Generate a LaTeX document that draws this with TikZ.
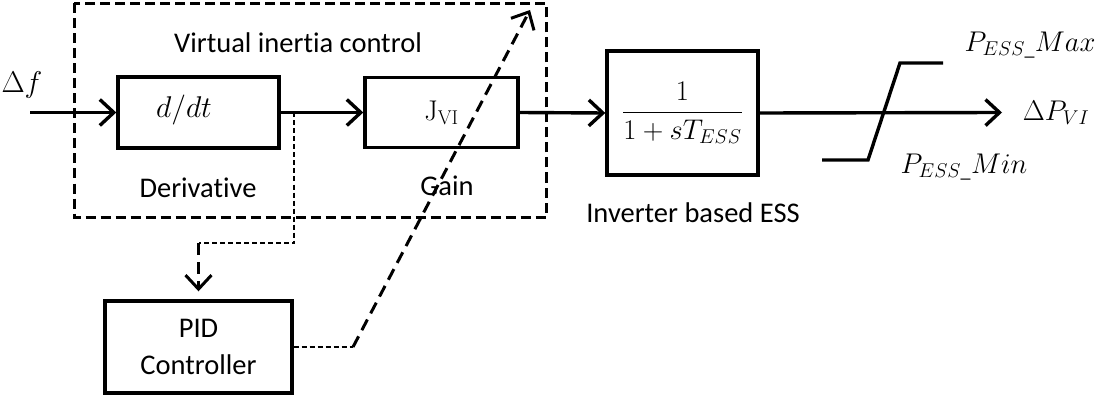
\RequirePackage{fix-cm}
\documentclass[tikz,border=0pt]{standalone}
\usepackage{amsmath}
\usepackage[no-math]{fontspec}
\setmainfont{Carlito}[Ligatures=NoCommon]
\usetikzlibrary{arrows.meta}
\begin{document}
\begin{tikzpicture}[x=1pt,y=-1pt,
  every node/.style={font=\fontsize{28.5}{33}\selectfont, inner sep=0pt},
  blk/.style={draw, line width=3.4pt, inner sep=0pt},
  sig/.style={line width=3.4pt, -{Straight Barb[length=14pt,width=26pt]}},
  grp/.style={line width=3pt, dash pattern=on 10pt off 5pt},
  thin/.style={line width=1.5pt, dash pattern=on 5pt off 3pt},
  tdash/.style={line width=3pt, dash pattern=on 12pt off 7pt},
  tdarrow/.style={tdash, -{Straight Barb[length=14pt,width=26pt]}}
]
\useasboundingbox (0,0) rectangle (1099,398);
% group box
\draw[grp] (74,3.5) rectangle (546,217);
\node (vic) at (298,43) {Virtual inertia control};
% blocks
\node[blk, minimum width=161pt, minimum height=71pt] (dd) at (198.5,112.5) {};
\node (ddt) at (184,110) {\fontsize{30}{34}\selectfont$d/dt$};
\node[blk, minimum width=153pt, minimum height=70pt] (jv) at (441.5,112.5) {\raisebox{-5pt}{$\mathrm{J}_{\mathrm{VI}}$}};
\node[blk, minimum width=151pt, minimum height=124pt] (ess) at (682.5,113) {$\dfrac{1}{1+sT_{ESS}}$};
\node[blk, minimum width=187pt, minimum height=92pt, align=center] (pid) at (198.5,347) {\raisebox{-4pt}{PID}\\[4pt]\raisebox{-4pt}{Controller}};
% labels
\node (der) at (198,188) {Derivative};
\node (gain) at (447,186) {Gain};
\node (inv) at (693,213) {Inverter based ESS};
\node (df) at (22,85) {\fontsize{30}{34}\selectfont$\Delta f$};
\node (dp) at (1056,113) {$\Delta P_{VI}$};
\node (pmax) at (1030,45) {$P_{ESS\_}Max$};
\node (pmin) at (964,167) {$P_{ESS\_}Min$};
% signal path
\coordinate (in) at (30,112.5);
\coordinate (out) at (1002,112.5);
\coordinate (br) at (294,112.5);
\draw[sig] (in) -- (dd.west);
\draw[sig] (dd.east) -- (jv.west);
\draw[sig] (jv.east) -- (ess.west);
\draw[sig] (ess.east) -- (out);
% saturation
\coordinate (s1) at (822,160);
\coordinate (s2) at (868,160);
\coordinate (s3) at (900,63);
\coordinate (s4) at (943,63);
\draw[line width=3.4pt] (s1) -- (s2) -- (s3) -- (s4);
% PID feedback
\coordinate (c1) at (198.5,243);
\draw[thin] (br) |- (c1);
\draw[tdarrow, shorten >=8pt] (c1) -- (pid.north);
\coordinate (c2) at (353,347);
\coordinate (tip) at (530,10);
\draw[thin] (pid.east) -- (c2);
\draw[tdarrow] (c2) -- (tip);
\end{tikzpicture}
\end{document}
